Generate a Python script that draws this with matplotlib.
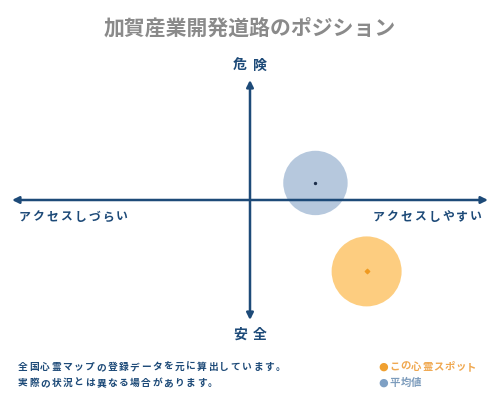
import matplotlib
matplotlib.use("Agg")
import matplotlib.pyplot as plt

plt.rcParams['font.family'] = ['Noto Sans CJK JP', 'DejaVu Sans']

title = "加賀産業開発道路のポジション"
axis_top, axis_bottom = "危険", "安全"
axis_left, axis_right = "アクセスしづらい", "アクセスしやすい"
series_names = ["この心霊スポット", "平均値"]
access = [0.49, 0.275]      # x: access
danger = [-0.595, 0.142]    # y: danger
notes = ["全国心霊マップの登録データを元に算出しています。",
         "実際の状況とは異なる場合があります。"]

navy = "#1d4a78"
fill_cols = ["#fdc56a", "#a9bfd8"]
dot_cols = ["#f09a20", "#1d2f4a"]
legend_dots = ["#f0a030", "#7ea0c4"]
text_cols = ["#f0a850", "#7d9cbc"]
sizes = [2540, 2150]

W, H = 500, 400
fig = plt.figure(figsize=(5, 4), dpi=100)


def spaced(x_px, y_px, s, adv_px, ha='left', **kw):
    # draw text char by char with a fixed advance (letter spacing)
    total = adv_px * len(s)
    if ha == 'center':
        x_px -= total / 2
    elif ha == 'right':
        x_px -= total
    for i, ch in enumerate(s):
        fig.text((x_px + i * adv_px + adv_px / 2) / W, 1 - y_px / H, ch,
                 ha='center', va='center', **kw)


ax = fig.add_axes([0.024, 0.2, 0.952, 0.6])
ax.set_xlim(-1, 1)
ax.set_ylim(-1, 1)
ax.axis('off')

for i in range(len(access)):
    ax.scatter(access[i], danger[i], s=sizes[i], color=fill_cols[i], alpha=0.85,
               edgecolors='none', zorder=1)
    ax.scatter(access[i], danger[i], s=5 if i == 0 else 2, color=dot_cols[i],
               marker='D' if i == 0 else 'o', zorder=4)

arrow = dict(arrowstyle='<|-|>', color=navy, lw=1.8, mutation_scale=10,
             shrinkA=0, shrinkB=0)
ax.annotate('', xy=(1, 0), xytext=(-1, 0), arrowprops=arrow, zorder=3)
ax.annotate('', xy=(0, 1), xytext=(0, -1), arrowprops=arrow, zorder=3)

fig.text(0.5, 0.93, title, ha='center', va='center', fontsize=15,
         color='#8a8a8a', fontweight='bold')
spaced(250, 66, axis_top, 20, ha='center', fontsize=10, color=navy,
       fontweight='bold')
spaced(250, 335, axis_bottom, 20, ha='center', fontsize=10, color=navy,
       fontweight='bold')
spaced(17, 217, axis_left, 14, fontsize=8.5, color=navy, fontweight='bold')
spaced(483, 217, axis_right, 14, ha='right', fontsize=8.5, color=navy,
       fontweight='bold')

for k, line in enumerate(notes):
    spaced(17, 367 + k * 16, line, 11.2, fontsize=7, color=navy,
           fontweight='bold')

for k, name in enumerate(series_names):
    y = 367 + k * 16
    fig.text(383 / W, 1 - y / H, "●", ha='center', va='center', fontsize=8,
             color=legend_dots[k], family='DejaVu Sans')
    spaced(389, y, name, 11, fontsize=7.5, color=text_cols[k],
           fontweight='bold')

fig.savefig("out.png", dpi=100)
